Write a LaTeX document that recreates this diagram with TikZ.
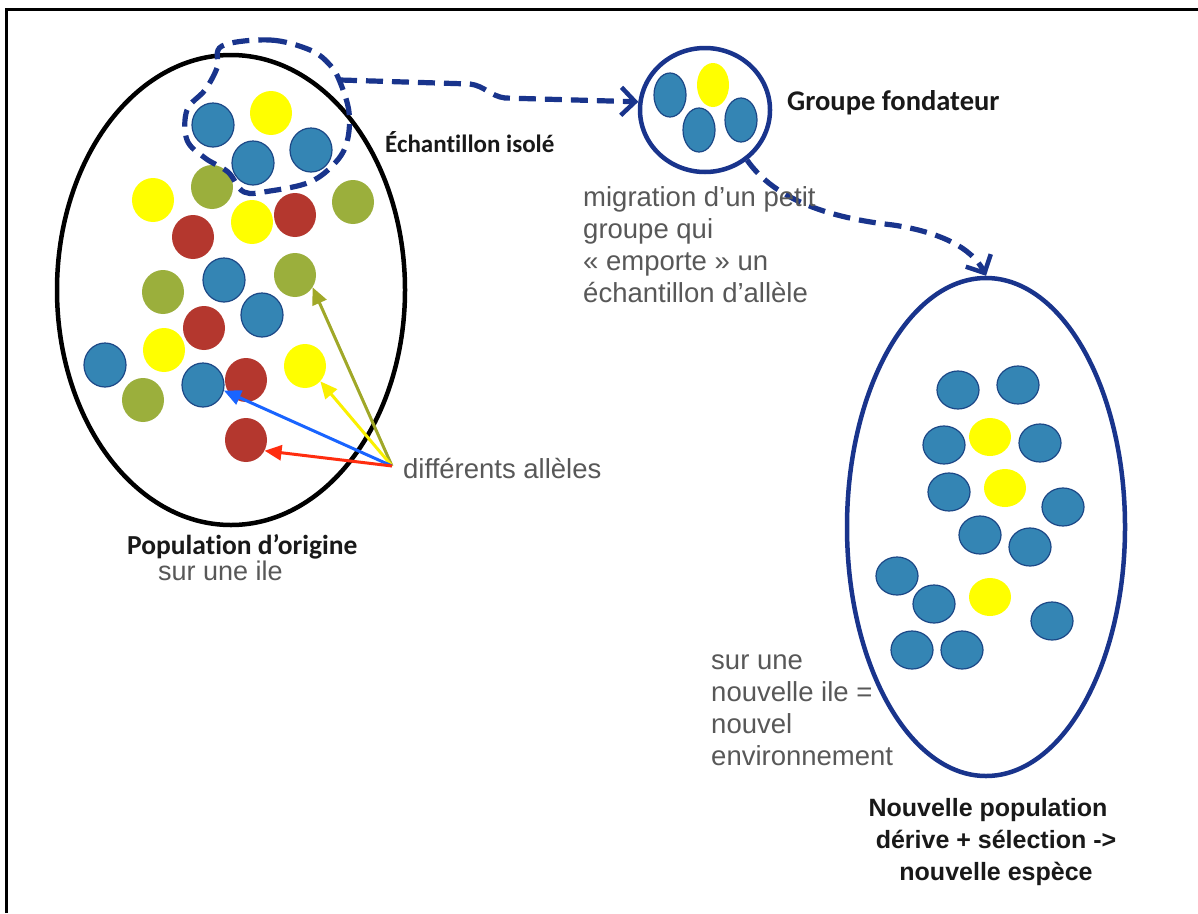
\documentclass[tikz,border=0pt]{standalone}
\usepackage{fontspec}
\setmainfont{Carlito}[Ligatures=NoCommon]
\newfontfamily\arialf{Liberation Sans}
\usetikzlibrary{shapes.geometric,arrows.meta}
\definecolor{navy}{RGB}{25,52,140}
\definecolor{dotblue}{RGB}{52,133,180}
\definecolor{dotborder}{RGB}{28,72,135}
\definecolor{dotyellow}{RGB}{255,255,0}
\definecolor{dotolive}{RGB}{155,175,60}
\definecolor{dotred}{RGB}{180,55,46}
\definecolor{txtgray}{RGB}{88,88,88}
\definecolor{arrolive}{RGB}{160,168,40}
\definecolor{arryellow}{RGB}{250,240,0}
\definecolor{arrblue}{RGB}{25,100,255}
\definecolor{arrred}{RGB}{255,45,15}
\tikzset{
  dotbase/.style={ellipse, inner sep=0pt, minimum width=42pt, minimum height=44pt},
  bdot/.style={dotbase, fill=dotblue, draw=dotborder, line width=1.2pt},
  ydot/.style={dotbase, fill=dotyellow},
  gdot/.style={dotbase, fill=dotolive},
  rdot/.style={dotbase, fill=dotred},
  fdot/.style={minimum width=32pt, minimum height=44pt},
  ndot/.style={minimum width=42pt, minimum height=38pt},
  navydash/.style={draw=navy, line width=5.2pt, dash pattern=on 17pt off 9pt},
  barb/.style={-{Straight Barb[length=14pt,width=28pt,line width=4.5pt]}},
  allele/.style={line width=3pt, -{Triangle[length=17pt,width=15pt]}},
  boldlbl/.style={font=\bfseries, text=black!90, inner sep=0pt, anchor=base west},
  graylbl/.style={font=\arialf\fontsize{27.5}{32}\selectfont, text=txtgray, inner sep=0pt, anchor=base west},
  newlbl/.style={font=\arialf\fontsize{25}{32}\selectfont\bfseries, text=black!90, inner sep=0pt, anchor=base},
}
\begin{document}
\begin{tikzpicture}[x=1pt,y=-1pt]
\useasboundingbox (0,0) rectangle (1198,913);
\fill[white] (0,0) rectangle (1198,913);
% frame
\draw[line width=2.2pt, black] (6.5,913) -- (6.5,9.5) -- (1198,9.5);

% original population
\node[ellipse, draw=black, line width=4.5pt, minimum width=348pt, minimum height=470pt, inner sep=0pt] (orig) at (231,290) {};

\node[ydot] (ly1) at (271,113) {};
\node[ydot] (ly2) at (153,200) {};
\node[ydot] (ly3) at (252,222) {};
\node[ydot] (ly4) at (164,350) {};
\node[ydot] (ly5) at (305,366) {};
\node[gdot] (lg1) at (212,187) {};
\node[gdot] (lg2) at (353,202) {};
\node[gdot] (lg3) at (163,292) {};
\node[gdot] (lg4) at (295,275) {};
\node[gdot] (lg5) at (143,400) {};
\node[rdot] (lr1) at (193,237) {};
\node[rdot] (lr2) at (295,215) {};
\node[rdot] (lr3) at (204,328) {};
\node[rdot] (lr5) at (246,440) {};
\node[bdot] (lb1) at (213,125) {};
\node[bdot] (lb2) at (253,163) {};
\node[bdot] (lb3) at (311,150) {};
\node[bdot] (lb4) at (224,280) {};
\node[bdot] (lb5) at (262,315) {};
\node[bdot] (lb6) at (105,365) {};
\node[bdot] (lb7) at (203,385) {};
\node[rdot] (lr4) at (246,380) {};

% isolated sample loop
\draw[navydash] plot[smooth cycle, tension=0.6] coordinates {
  (222,46) (270,40) (310,50) (330,65) (340,82) (349,112) (347,142) (335,163)
  (310,182) (270,191) (244,192) (228,172) (205,158) (187,140) (187,110)
  (205,90) (217,68)};
\coordinate (junc) at (340,80);

% founder group
\node[ellipse, draw=navy, line width=4.5pt, minimum width=130pt, minimum height=124pt, inner sep=0pt] (fond) at (705,110) {};
\node[bdot, fdot] (fb1) at (670,95) {};
\node[ydot, fdot] (fy1) at (713,85) {};
\node[bdot, fdot] (fb2) at (699,130) {};
\node[bdot, fdot] (fb3) at (741,120) {};

\draw[navydash, barb] (junc) -- (470,84) .. controls (485,86) and (490,96) .. (505,98) -- (fond.173);

% new population
\node[ellipse, draw=navy, line width=4.5pt, minimum width=278pt, minimum height=498pt, inner sep=0pt] (newpop) at (986,527) {};
\node[bdot, ndot] (nb1) at (958,390) {};
\node[bdot, ndot] (nb2) at (1018,385) {};
\node[bdot, ndot] (nb3) at (944,445) {};
\node[bdot, ndot] (nb4) at (1040,443) {};
\node[ydot, ndot] (ny1) at (990,437) {};
\node[bdot, ndot] (nb5) at (949,492) {};
\node[ydot, ndot] (ny2) at (1005,488) {};
\node[bdot, ndot] (nb6) at (1063,507) {};
\node[bdot, ndot] (nb7) at (980,535) {};
\node[bdot, ndot] (nb8) at (1030,547) {};
\node[bdot, ndot] (nb9) at (897,576) {};
\node[bdot, ndot] (nb10) at (934,604) {};
\node[ydot, ndot] (ny3) at (990,597) {};
\node[bdot, ndot] (nb11) at (1052,621) {};
\node[bdot, ndot] (nb12) at (912,650) {};
\node[bdot, ndot] (nb13) at (962,650) {};

\draw[navydash, barb] (fond.-50) .. controls (775,200) and (830,218) .. (893,225)
  .. controls (940,232) and (972,248) .. (newpop.north);

% allele arrows
\coordinate (src) at (392,466);
\draw[allele, draw=arrolive, -{Triangle[length=17pt,width=15pt,fill=arrolive]}] (src) -- (lg4.-35);
\draw[allele, draw=arryellow] (src) -- (ly5.-45);
\draw[allele, draw=arrblue] (src) -- (lb7.-15);
\draw[allele, draw=arrred] (src) -- (lr5.-30);

% labels
\node[boldlbl, font=\fontsize{25}{30}\selectfont\bfseries] (lech) at (385,152) {Échantillon isolé};
\node[boldlbl, font=\fontsize{28.5}{30}\selectfont\bfseries] (lgf) at (787,110) {Groupe fondateur};
\node[boldlbl, font=\fontsize{27.5}{30}\selectfont\bfseries] (lpop) at (127,554) {Population d’origine};
\node[graylbl, font=\arialf\fontsize{27}{32}\selectfont] (lsur) at (158,580) {sur une ile};
\node[graylbl] (ldiff) at (403,478) {différents allèles};
\node[graylbl] (m1) at (583,206) {migration d’un petit};
\node[graylbl] (m2) at (583,238) {groupe qui};
\node[graylbl] (m3) at (583,270) {« emporte » un};
\node[graylbl] (m4) at (583,302) {échantillon d’allèle};
\node[graylbl] (s1) at (711,669) {sur une};
\node[graylbl] (s2) at (711,701) {nouvelle ile =};
\node[graylbl] (s3) at (711,733) {nouvel};
\node[graylbl] (s4) at (711,765) {environnement};
\node[newlbl] (n1) at (988,816) {Nouvelle population};
\node[newlbl] (n2) at (996,848) {dérive + sélection ->};
\node[newlbl] (n3) at (996,880) {nouvelle espèce};
\end{tikzpicture}
\end{document}
